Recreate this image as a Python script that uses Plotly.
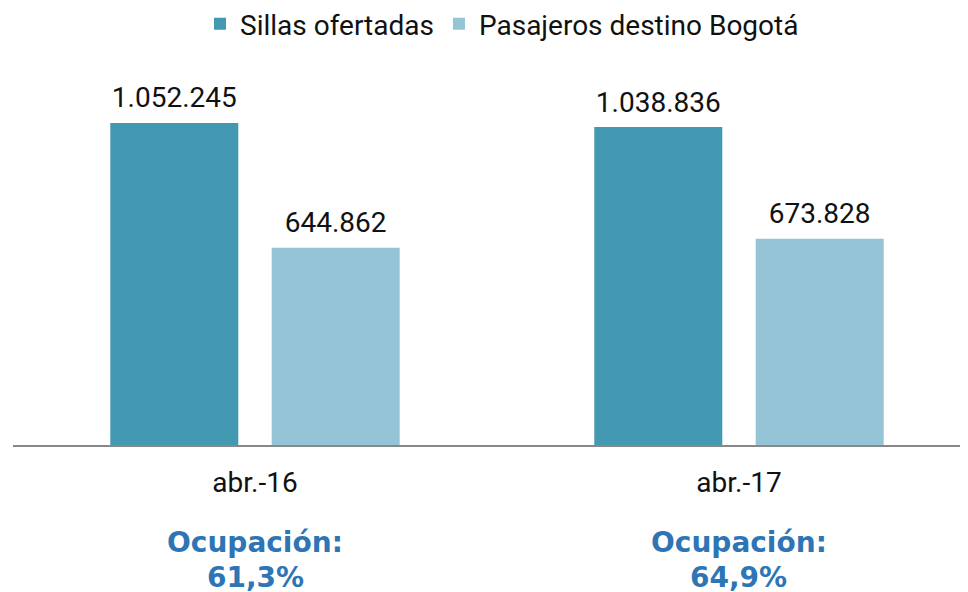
import plotly.graph_objects as go

categories = ["abr.-16", "abr.-17"]
sillas = [1052245, 1038836]
pasajeros = [644862, 673828]
ocupacion = ["61,3%", "64,9%"]

def fmt(v):
    return f"{v:,}".replace(",", ".")

FONT = "Roboto, 'Noto Sans', sans-serif"
BOLD = "'DejaVu Sans', sans-serif"
GAP = 0.333

fig = go.Figure()
for name, vals, color, grp in [("Sillas ofertadas", sillas, "#4399B1", "a"),
                               ("Pasajeros destino Bogotá", pasajeros, "#94C4D5", "b")]:
    fig.add_trace(go.Bar(
        name=name, x=categories, y=vals, offsetgroup=grp,
        marker=dict(color=color, line=dict(width=0)),
        hoverinfo="x+y",
    ))
for vals, grp in [(sillas, "a"), (pasajeros, "b")]:
    fig.add_trace(go.Scatter(
        x=categories, y=vals, offsetgroup=grp, mode="markers+text",
        text=[fmt(v) for v in vals], textposition="top center",
        marker=dict(size=12, opacity=0), showlegend=False, cliponaxis=False,
        textfont=dict(size=28, color="#111111", family=FONT), hoverinfo="skip",
    ))

for cat, occ in zip(categories, ocupacion):
    fig.add_annotation(
        x=cat, xref="x", y=-0.2545, yref="paper", yanchor="middle",
        text="<b>Ocupación:</b>", showarrow=False,
        font=dict(size=28, color="#2E75B6", family=BOLD),
    )
    fig.add_annotation(
        x=cat, xref="x", y=-0.345, yref="paper", yanchor="middle",
        text=f"<b>{occ}</b>", showarrow=False,
        font=dict(size=28, color="#2E75B6", family=BOLD),
    )

fig.update_layout(
    width=968, height=592,
    margin=dict(l=5, r=0, t=52, b=155, autoexpand=False),
    paper_bgcolor="white", plot_bgcolor="white",
    barmode="group", bargap=GAP, bargroupgap=0.207,
    scattermode="group", scattergap=GAP,
    font=dict(family=FONT, size=28, color="#111111"),
    showlegend=True,
    legend=dict(orientation="h", x=0.5078, xref="paper", xanchor="center",
                y=1.158, yref="paper", yanchor="top",
                font=dict(size=28, color="#111111"), itemwidth=30,
                traceorder="normal"),
    xaxis=dict(range=[-0.5, 1.4897], showline=True, linecolor="#888888", linewidth=2,
               showgrid=False, ticks="", ticklabelstandoff=11,
               tickfont=dict(size=28, color="#111111")),
    yaxis=dict(range=[0, 1258000], visible=False, showgrid=False),
)

fig.write_html("out.html")
